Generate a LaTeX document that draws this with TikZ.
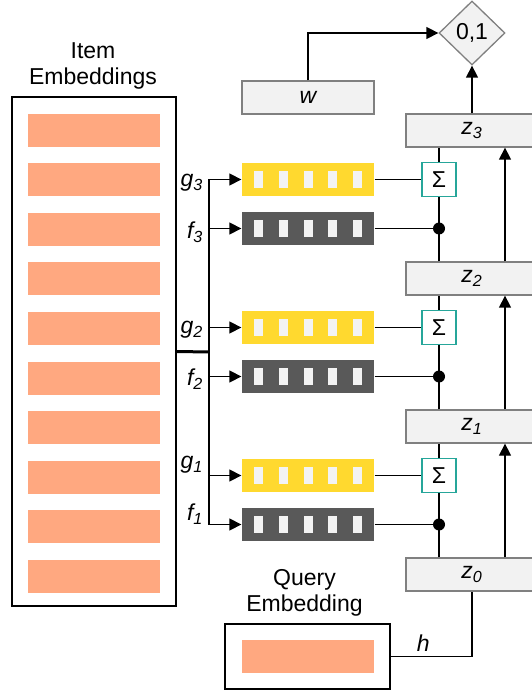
\documentclass[tikz,border=0pt]{standalone}
\usepackage{fontspec}
\setmainfont{Liberation Sans}
\usetikzlibrary{arrows.meta,shapes.geometric}
\definecolor{embfill}{RGB}{255,168,128}
\definecolor{gatefill}{RGB}{255,217,47}
\definecolor{featfill}{RGB}{89,89,89}
\definecolor{slotfill}{RGB}{243,243,243}
\definecolor{sumteal}{RGB}{38,166,154}
\definecolor{zfill}{RGB}{242,242,242}
\definecolor{zdraw}{RGB}{128,128,128}
\begin{document}
\begin{tikzpicture}[x=0.5pt,y=-0.5pt,font=\fontsize{11.5}{12.8}\selectfont,
  line width=0.65pt,>={Triangle[length=6pt,width=6pt]},
  emb/.style={fill=embfill,minimum width=66pt,minimum height=16.5pt,inner sep=0pt},
  vec/.style={minimum width=66pt,minimum height=16.5pt,inner sep=0pt},
  zbox/.style={draw=zdraw,fill=zfill,minimum width=66pt,minimum height=16.5pt,inner sep=0pt,font=\fontsize{11.5}{12.8}\selectfont\itshape},
  sumbox/.style={draw=sumteal,fill=white,minimum size=17pt,inner sep=0pt},
  lbl/.style={anchor=east,inner sep=0pt,font=\fontsize{11.5}{12.8}\selectfont\itshape}]
\useasboundingbox (0,0) rectangle (531,694);
% item embeddings
\node[align=center] (itemtitle) at (93,66) {Item\\Embeddings};
\node[draw,line width=0.75pt,minimum width=82pt,minimum height=254.5pt,inner sep=0pt] (item) at (94,351.5) {};
\foreach \i in {0,...,9}
  \node[emb] (e\i) at (94,130.5+49.5*\i) {};
% query embedding
\node[align=center] (qtitle) at (304.5,593) {Query\\Embedding};
\node[draw,line width=0.75pt,minimum width=82.5pt,minimum height=32.5pt,inner sep=0pt] (q) at (307.5,656.5) {};
\node[emb] (qbar) at (308,656.5) {};
% z states, weight and output
\node[zbox] (z0) at (472,574.5) {z\textsubscript{0}};
\node[zbox] (z1) at (472,426.5) {z\textsubscript{1}};
\node[zbox] (z2) at (472,278.5) {z\textsubscript{2}};
\node[zbox] (z3) at (472,130.5) {z\textsubscript{3}};
\node[zbox] (w) at (308,97.5) {w};
\node[diamond,draw=zdraw,fill=zfill,minimum width=33pt,minimum height=32pt,inner sep=0pt] (out) at (472,33) {0,1};
\coordinate (bus) at (209,352);
\coordinate (rx) at (505,0);
% gates g_k and features f_k
\foreach \k/\yg/\yf/\ly in {1/475.5/524.5/465, 2/327.5/376.5/330, 3/179.5/228.5/183} {
  \pgfmathtruncatemacro{\j}{\k-1}
  \node[vec,fill=gatefill] (g\k) at (308,\yg) {};
  \node[vec,fill=featfill] (f\k) at (308,\yf) {};
  \foreach \s in {-2,...,2} {
    \fill[slotfill] ([xshift=\s*12.375pt]g\k.center) +(-4.5,-8.5) rectangle +(4.5,8.5);
    \fill[slotfill] ([xshift=\s*12.375pt]f\k.center) +(-4.5,-8.5) rectangle +(4.5,8.5);
  }
  \node[lbl] (gl\k) at (204,\ly) {g\textsubscript{\k}};
  \node[lbl] (fl\k) at (204,\ly+49) {f\textsubscript{\k}};
  \node[sumbox] (s\k) at (439,\yg) {Σ};
  \coordinate (d\k) at (s\k |- f\k.east);
  \draw[->] (bus |- g\k.west) -- (g\k.west);
  \draw[->] (bus |- f\k.west) -- (f\k.west);
  \draw (g\k.east) -- (s\k.west);
  \draw (f\k.east) -- (d\k);
  \fill (d\k) circle (3pt);
  \draw (s\k |- z\j.north) -- (s\k.south);
  \draw (s\k.north) -- (s\k |- z\k.south);
  \draw[->] (rx |- z\j.north) -- (rx |- z\k.south);
}
% bus
\draw[line width=1.5pt] (item.east) -- (bus);
\draw (bus |- g3.west) -- (bus |- f1.west);
% output and query
\draw[->] (z3.north) -- (out.south);
\draw[->] (w.north) |- (out.west);
\draw (q.east) -| node[pos=0.2,above,inner sep=2pt,font=\fontsize{11.5}{12.8}\selectfont\itshape] {h} (z0.south);
\end{tikzpicture}
\end{document}
